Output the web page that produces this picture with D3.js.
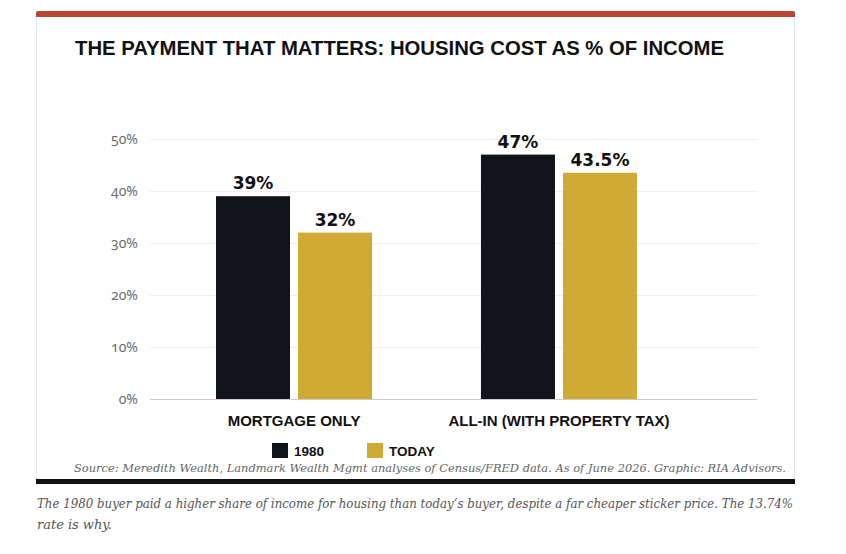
<!DOCTYPE html>
<html><head><meta charset="utf-8">
<script src="https://cdn.jsdelivr.net/npm/d3@7"></script>
<style>
html,body{margin:0;padding:0;background:#fff;}
svg{display:block;}
</style></head>
<body>
<svg id="chart" width="846" height="554"></svg>
<script>
const categories = ["MORTGAGE ONLY", "ALL-IN (WITH PROPERTY TAX)"];
const seriesNames = ["1980", "TODAY"];
const values1980 = [39, 47];
const valuesToday = [32, 43.5];
const valueLabels1980 = ["39%", "47%"];
const valueLabelsToday = ["32%", "43.5%"];
const yTicks = [0, 10, 20, 30, 40, 50];
const colors = ["#11131a", "#cfab36"];
const titleText = "THE PAYMENT THAT MATTERS: HOUSING COST AS % OF INCOME";
const sourceText = "Source: Meredith Wealth, Landmark Wealth Mgmt analyses of Census/FRED data. As of June 2026. Graphic: RIA Advisors.";
const captionLines = ["The 1980 buyer paid a higher share of income for housing than today\u2019s buyer, despite a far cheaper sticker price. The 13.74%", "rate is why."];

const svg = d3.select("#chart");

// card
svg.append("rect").attr("x",36.5).attr("y",12.5).attr("width",758).attr("height",470)
  .attr("fill","#fff").attr("stroke","#e6e6e6");
svg.append("path").attr("d","M36,17 L36,13 Q36,11 38,11 L793,11 Q795,11 795,13 L795,17 Z").attr("fill","#b84535");
svg.append("rect").attr("x",36).attr("y",479).attr("width",759).attr("height",5).attr("fill","#111216");

// title
svg.append("text").attr("x",75).attr("y",55).text(titleText)
  .attr("font-family","Liberation Sans, Arial, sans-serif").attr("font-weight","bold")
  .attr("font-size",20).attr("fill","#111")
  .attr("textLength",649).attr("lengthAdjust","spacingAndGlyphs");

// scales
const y = d3.scaleLinear().domain([0,50]).range([399,139]);
const x0 = d3.scaleBand().domain(categories).range([163,690]).paddingInner(0.411).paddingOuter(0.2);
const x1 = d3.scaleBand().domain(seriesNames).range([0,x0.bandwidth()]).paddingInner(0.0976).paddingOuter(0);

// grid
const gridX0 = 150, gridX1 = 757;
svg.append("g").selectAll("line").data(yTicks.filter(d=>d>0)).join("line")
  .attr("x1",gridX0).attr("x2",gridX1).attr("y1",d=>y(d)+0.5).attr("y2",d=>y(d)+0.5)
  .attr("stroke","#f0f0f0").attr("stroke-width",1);

// y axis labels
const yAxis = d3.axisLeft(y).tickValues(yTicks).tickFormat(d=>d+"%").tickSize(0).tickPadding(0);
const gy = svg.append("g").attr("transform","translate(138,0)").call(yAxis);
gy.select(".domain").remove();
gy.selectAll("text").attr("font-family","Noto Sans, sans-serif").attr("font-size",14)
  .attr("fill","#6e6e6e").style("font-variant-numeric","oldstyle-nums").attr("dy","0.3em");

// bars
const rows = categories.map((c,i)=>({cat:c, vals:[
  {s:seriesNames[0], v:values1980[i], lab:valueLabels1980[i], col:colors[0]},
  {s:seriesNames[1], v:valuesToday[i], lab:valueLabelsToday[i], col:colors[1]}]}));
const g = svg.append("g").selectAll("g").data(rows).join("g")
  .attr("transform",d=>`translate(${x0(d.cat)},0)`);
g.selectAll("rect").data(d=>d.vals).join("rect")
  .attr("x",d=>x1(d.s)).attr("width",x1.bandwidth())
  .attr("y",d=>y(d.v)).attr("height",d=>y(0)-y(d.v)).attr("fill",d=>d.col);
g.selectAll("text").data(d=>d.vals).join("text")
  .attr("x",d=>x1(d.s)+x1.bandwidth()/2).attr("y",d=>y(d.v)-7)
  .attr("text-anchor","middle").text(d=>d.lab)
  .attr("font-family","DejaVu Sans, sans-serif").attr("font-weight","bold")
  .attr("font-size",17).attr("fill","#111");

// baseline
svg.append("line").attr("x1",gridX0).attr("x2",gridX1).attr("y1",y(0)+0.5).attr("y2",y(0)+0.5)
  .attr("stroke","#cccccc");

// x axis labels
const xAxis = d3.axisBottom(x0).tickSize(0).tickPadding(0);
const gx = svg.append("g").attr("transform","translate(0,426)").call(xAxis);
gx.select(".domain").remove();
gx.selectAll("text").attr("dy",0).attr("font-family","Liberation Sans, Arial, sans-serif")
  .attr("font-weight","bold").attr("font-size",15).attr("fill","#111");

// legend
const legendX = [272, 367];
const lg = svg.append("g").selectAll("g").data(seriesNames).join("g")
  .attr("transform",(d,i)=>`translate(${legendX[i]},443)`);
lg.append("rect").attr("width",16).attr("height",15).attr("fill",(d,i)=>colors[i]);
lg.append("text").attr("x",22).attr("y",13).text(d=>d)
  .attr("font-family","Liberation Sans, Arial, sans-serif").attr("font-weight","bold")
  .attr("font-size",13.5).attr("fill","#111");

// source
svg.append("text").attr("x",786).attr("y",472).attr("text-anchor","end").text(sourceText)
  .attr("font-family","DejaVu Serif, serif").attr("font-style","italic")
  .attr("font-size",11.5).attr("fill","#666")
  .attr("textLength",712).attr("lengthAdjust","spacingAndGlyphs");

// caption
svg.append("g").selectAll("text").data(captionLines).join("text")
  .attr("x",37).attr("y",(d,i)=>508+i*21).text(d=>d)
  .attr("font-family","DejaVu Serif, serif").attr("font-style","italic")
  .attr("font-size",12.5).attr("fill","#555")
  .attr("textLength",(d,i)=>i===0?756:75).attr("lengthAdjust","spacingAndGlyphs");
</script>
</body></html>
